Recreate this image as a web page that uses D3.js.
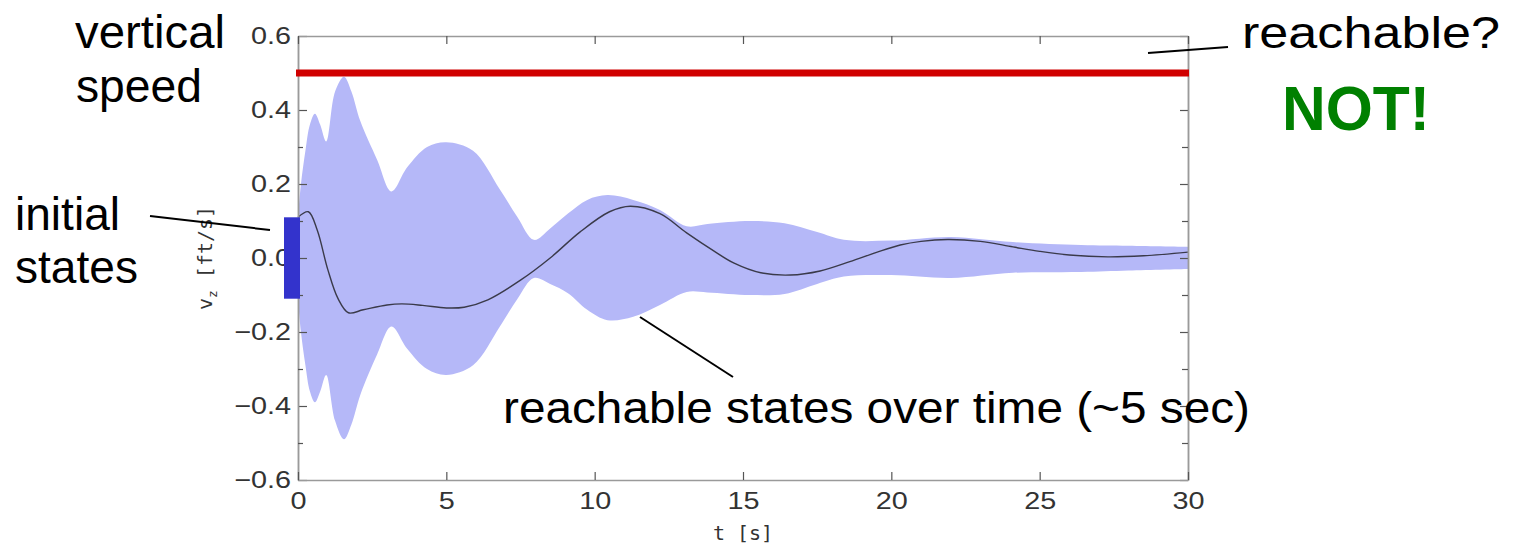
<!DOCTYPE html>
<html>
<head>
<meta charset="utf-8">
<script src="https://cdn.jsdelivr.net/npm/d3@7"></script>
<style>
  body { margin: 0; background: #fff; }
  svg { display: block; }
  .ann { font-family: "Liberation Sans", Arial, sans-serif; fill: #000; }
</style>
</head>
<body>
<svg id="chart" width="1517" height="546"></svg>
<script>
// ---------- data ----------
var bandT     = [0, 0.1, 0.25, 0.4, 0.57, 0.75, 0.95, 1.25, 1.55, 1.8, 2.1, 2.67, 3.15, 3.68, 4.35, 5.0, 5.9, 6.8, 7.4, 7.95, 8.5, 9.1, 9.75, 10.43, 11.3, 12.2, 13.1, 13.8, 15.25, 16.4, 17.5, 18.4, 20.0, 22.0, 24.1, 26.4, 28.0, 30];
var bandUpper = [0.11, 0.2, 0.29, 0.36, 0.39, 0.36, 0.315, 0.45, 0.49, 0.45, 0.37, 0.265, 0.18, 0.245, 0.3, 0.313, 0.29, 0.186, 0.11, 0.049, 0.08, 0.12, 0.157, 0.17, 0.157, 0.13, 0.086, 0.092, 0.1, 0.094, 0.07, 0.049, 0.047, 0.057, 0.043, 0.035, 0.033, 0.03];
var bandLower = [-0.11, -0.2, -0.29, -0.36, -0.39, -0.36, -0.316, -0.44, -0.49, -0.45, -0.37, -0.26, -0.185, -0.245, -0.3, -0.316, -0.29, -0.186, -0.11, -0.054, -0.07, -0.095, -0.14, -0.168, -0.159, -0.127, -0.092, -0.093, -0.1, -0.097, -0.07, -0.05, -0.046, -0.054, -0.04, -0.038, -0.034, -0.03];

var nomT = [0, 0.35, 0.65, 1.0, 1.35, 1.7, 2.2, 3.0, 3.5, 4.2, 5.0, 5.6, 6.4, 7.5, 8.5, 9.5, 10.5, 11.2, 12.2, 13.1, 14.0, 14.7, 15.6, 16.6, 17.6, 18.6, 19.5, 20.3, 21.0, 21.9, 23.0, 24.1, 25.0, 26.0, 27.3, 28.5, 30];
var nomV = [0.11, 0.125, 0.075, -0.03, -0.11, -0.148, -0.14, -0.127, -0.124, -0.128, -0.135, -0.133, -0.113, -0.06, 0.0, 0.07, 0.125, 0.14, 0.12, 0.068, 0.02, -0.014, -0.04, -0.046, -0.035, -0.01, 0.015, 0.035, 0.045, 0.05, 0.045, 0.03, 0.018, 0.008, 0.003, 0.006, 0.016];

var unsafeLevel = 0.5;          // red limit
var initialStates = [-0.11, 0.11];

var xTicks = [0, 5, 10, 15, 20, 25, 30];
var yTicks = [-0.6, -0.4, -0.2, 0.0, 0.2, 0.4, 0.6];
var yMinor = [-0.5, -0.3, -0.1, 0.1, 0.3, 0.5];

// ---------- layout ----------
var svg = d3.select("#chart");
var plotL = 298, plotR = 1188, plotT = 36, plotB = 480;

var x = d3.scaleLinear().domain([0, 30]).range([plotL, plotR]);
var y = d3.scaleLinear().domain([-0.6, 0.6]).range([plotB, plotT]);

// reachable set band
var band = bandT.map(function (t, i) { return { t: t, lo: bandLower[i], hi: bandUpper[i] }; });
svg.append("path")
  .datum(band)
  .attr("fill", "#b5b8f8")
  .attr("d", d3.area()
    .x(function (d) { return x(d.t); })
    .y0(function (d) { return y(d.lo); })
    .y1(function (d) { return y(d.hi); })
    .curve(d3.curveCatmullRom.alpha(0.5)));

// nominal trajectory
var nom = nomT.map(function (t, i) { return { t: t, v: nomV[i] }; });
svg.append("path")
  .datum(nom)
  .attr("fill", "none")
  .attr("stroke", "#3a3a4a")
  .attr("stroke-width", 1.4)
  .attr("d", d3.line()
    .x(function (d) { return x(d.t); })
    .y(function (d) { return y(d.v); })
    .curve(d3.curveCatmullRom.alpha(0.5)));

// ---------- axes (box with inward ticks) ----------
function styleAxis(g) {
  g.select(".domain").attr("stroke", "#9a9a9a").attr("stroke-width", 1.5);
  g.selectAll(".tick line").attr("stroke", "#555").attr("stroke-width", 1.2);
  g.selectAll(".tick text")
    .attr("fill", "#333")
    .style("font-family", "'Liberation Sans', Arial, sans-serif")
    .style("font-size", "24px");
}

var fmtY = function (d) { return d3.format(".1f")(d).replace("-", "\u2212"); };

var gl = svg.append("g").attr("transform", "translate(" + plotL + ",0)")
  .call(d3.axisLeft(y).tickValues(yTicks).tickFormat(fmtY).tickSizeInner(-9).tickSizeOuter(0).tickPadding(7));
styleAxis(gl);
gl.selectAll(".tick text").attr("x", 0).attr("transform", "translate(-7,0) scale(1.2,1)");

var glm = svg.append("g").attr("transform", "translate(" + plotL + ",0)")
  .call(d3.axisLeft(y).tickValues(yMinor).tickFormat("").tickSizeInner(-5).tickSizeOuter(0));
styleAxis(glm);

var gr = svg.append("g").attr("transform", "translate(" + plotR + ",0)")
  .call(d3.axisRight(y).tickValues(yTicks).tickFormat("").tickSizeInner(-8).tickSizeOuter(0));
styleAxis(gr);
var grm = svg.append("g").attr("transform", "translate(" + plotR + ",0)")
  .call(d3.axisRight(y).tickValues(yMinor).tickFormat("").tickSizeInner(-6).tickSizeOuter(0));
styleAxis(grm);

var gb = svg.append("g").attr("transform", "translate(0," + plotB + ")")
  .call(d3.axisBottom(x).tickValues(xTicks).tickFormat(d3.format("d")).tickSizeInner(-8).tickSizeOuter(0).tickPadding(12));
styleAxis(gb);
gb.selectAll(".tick text").attr("transform", "scale(1.2,1)").attr("x", 0);

var gt = svg.append("g").attr("transform", "translate(0," + plotT + ")")
  .call(d3.axisTop(x).tickValues(xTicks).tickFormat("").tickSizeInner(-8).tickSizeOuter(0));
styleAxis(gt);

// axis labels
svg.append("text")
  .attr("x", x(15)).attr("y", 540)
  .attr("text-anchor", "middle")
  .attr("fill", "#333")
  .style("font-family", "'DejaVu Sans Mono', monospace")
  .style("font-size", "20px")
  .text("t [s]");

var yl = svg.append("text")
  .attr("transform", "translate(212," + y(0) + ") rotate(-90)")
  .attr("text-anchor", "middle")
  .attr("fill", "#333")
  .style("font-family", "'DejaVu Sans Mono', monospace")
  .style("font-size", "20px");
yl.append("tspan").text("v");
yl.append("tspan").attr("dy", 5).style("font-size", "13px").text("z");
yl.append("tspan").attr("dy", -5).text(" [ft/s]");

// unsafe limit
svg.append("line")
  .attr("x1", x(0) - 2).attr("x2", x(30) + 1)
  .attr("y1", y(unsafeLevel)).attr("y2", y(unsafeLevel))
  .attr("stroke", "#d00000")
  .attr("stroke-width", 7);

// initial states
svg.append("rect")
  .attr("x", x(0) - 14).attr("width", 16)
  .attr("y", y(initialStates[1]))
  .attr("height", y(initialStates[0]) - y(initialStates[1]))
  .attr("fill", "#3333cc");

// ---------- annotations ----------
function ann(txt, px, py, size, len, opts) {
  var t = svg.append("text").attr("class", "ann")
    .attr("x", px).attr("y", py)
    .style("font-size", size + "px")
    .text(txt);
  if (len) t.attr("textLength", len).attr("lengthAdjust", "spacingAndGlyphs");
  if (opts && opts.fill) t.style("fill", opts.fill);
  if (opts && opts.bold) t.style("font-weight", "bold");
  return t;
}
ann("vertical", 75, 48, 46, 150);
ann("speed", 76, 102, 46, 126);
ann("initial", 15, 230, 46, 105);
ann("states", 15, 283, 46, 123);
ann("reachable?", 1242, 48, 44, 258);
ann("NOT!", 1282, 130, 63, 148, { fill: "#008000", bold: true });
ann("reachable states over time (~5 sec)", 503, 423, 44, 747);

var leaders = [
  [150, 216, 270, 230],
  [1148, 53, 1228, 47],
  [640, 317, 733, 377]
];
svg.selectAll("line.leader")
  .data(leaders)
  .enter().append("line")
  .attr("class", "leader")
  .attr("x1", function (d) { return d[0]; })
  .attr("y1", function (d) { return d[1]; })
  .attr("x2", function (d) { return d[2]; })
  .attr("y2", function (d) { return d[3]; })
  .attr("stroke", "#000")
  .attr("stroke-width", 2);
</script>
</body>
</html>
